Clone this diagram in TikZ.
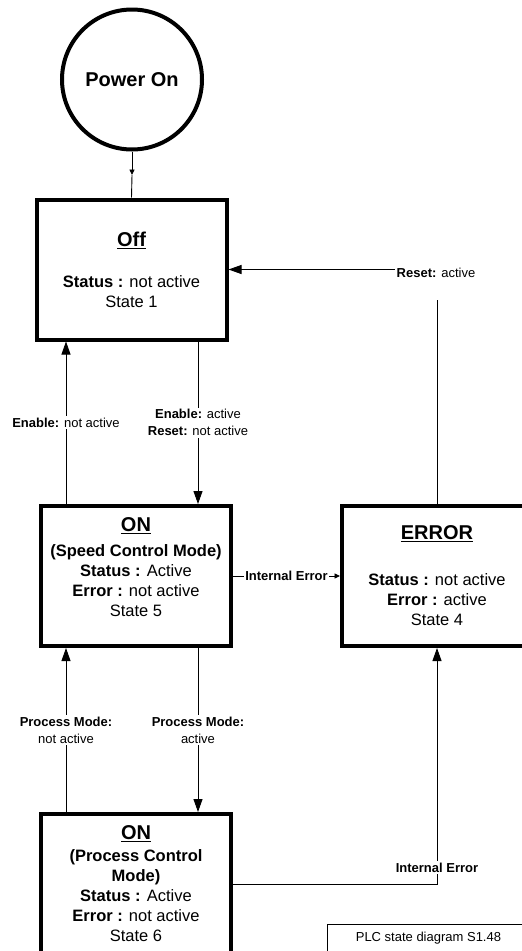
\documentclass[tikz,border=0pt]{standalone}
\usepackage{fontspec}
\setmainfont{Liberation Sans}
\usetikzlibrary{arrows.meta}
\tikzset{
  state/.style={draw, line width=4pt, minimum width=190pt, minimum height=140pt, inner sep=0pt, align=center, font=\fontsize{16.5}{20}\selectfont},
  cond/.style={fill=white, inner sep=1.5pt, align=center, font=\fontsize{13}{17}\selectfont},
  arr/.style={line width=0.9pt, -{Triangle[length=13pt,width=9pt]}},
  sarr/.style={line width=0.9pt, -{Triangle[length=5.5pt,width=5pt]}},
  wire/.style={line width=0.9pt}
}
\newcommand{\hd}[1]{{\fontsize{20}{24}\selectfont\bfseries\underline{#1}}}
\begin{document}
\begin{tikzpicture}[x=1pt,y=-1pt]
\useasboundingbox (0,0) rectangle (522,951);
\clip (0,0) rectangle (522,951);
\node (pwr) at (132,79.5) [draw, circle, line width=4pt, minimum size=140pt, font=\fontsize{20}{24}\selectfont\bfseries] {Power On};
\node (off) at (131.5,269.5) [state] {\hd{Off}\\[21pt]\textbf{Status :} not active\\State 1};
\node (son) at (136,576) [state] {\hd{ON}\\[5pt]\textbf{(Speed Control Mode)}\\\textbf{Status :} Active\\\textbf{Error :} not active\\State 5\\[-2pt]\mbox{}};
\node (err) at (437,576) [state] {\hd{ERROR}\\[26pt]\textbf{Status :} not active\\\textbf{Error :} active\\State 4};
\node (pon) at (136,884) [state] {\hd{ON}\\[2pt]\textbf{(Process Control}\\\textbf{Mode)}\\\textbf{Status :} Active\\\textbf{Error :} not active\\State 6};
\node (plc) at (326.5,923.5) [draw, line width=0.9pt, anchor=north west, minimum width=203pt, inner ysep=4pt, text height=14pt, text depth=30pt, font=\fontsize{13}{16}\selectfont] {PLC state diagram S1.48};
\coordinate (pwrm) at (132,175);
\coordinate (cl) at (66,0);
\coordinate (cr) at (198,0);

\draw[sarr] (pwr.south) to (pwrm);
\draw[wire] (pwrm) to (off.north);
\draw[arr] (err.north) |- (off.east);
\draw[arr] (cl |- son.north) to node[cond] (lenoff) {\textbf{Enable:} not active} (cl |- off.south);
\draw[arr] (cr |- off.south) to node[cond] (lenon) {\textbf{Enable:} active\\\textbf{Reset:} not active} (cr |- son.north);
\draw[sarr] (son.east) to node[cond] (lie1) {\textbf{Internal Error}} (err.west);
\draw[arr] (cl |- pon.north) to node[cond] (lpmoff) {\textbf{Process Mode:}\\not active} (cl |- son.south);
\draw[arr] (cr |- son.south) to node[cond] (lpmon) {\textbf{Process Mode:}\\active} (cr |- pon.north);
\draw[arr] (pon.east) -| node[cond, pos=0.535] (lie2) {\textbf{Internal Error}} (err.south);
\node (lrst) at (436,266) [cond, anchor=north, text depth=21pt] {\textbf{Reset:} active};
\end{tikzpicture}
\end{document}
